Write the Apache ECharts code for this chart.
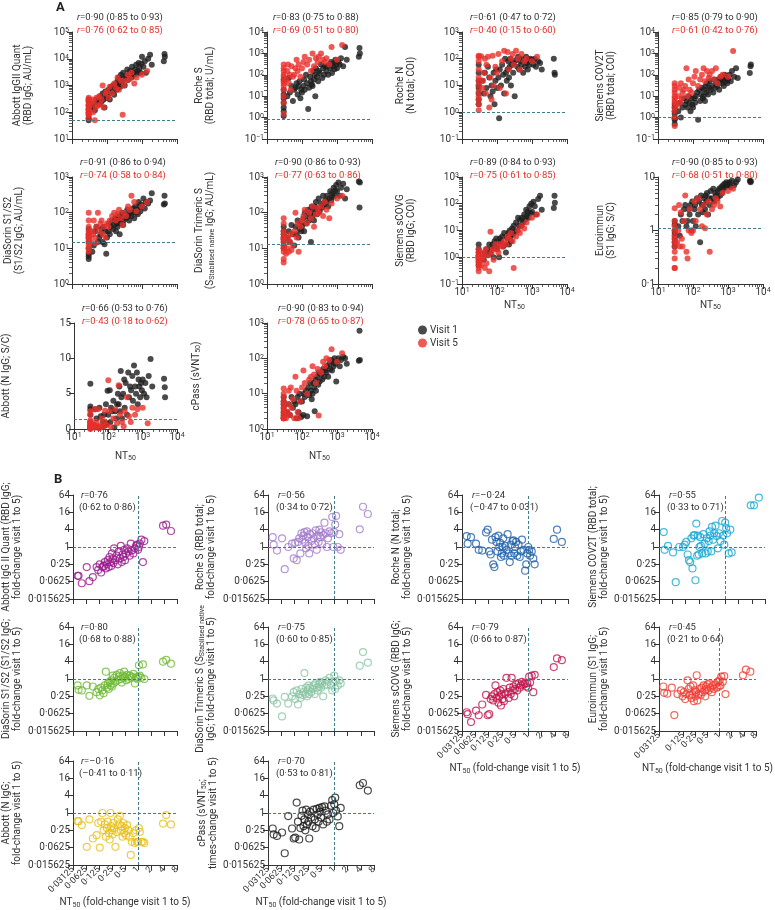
<!DOCTYPE html>
<html><head><meta charset="utf-8">
<script src="https://cdn.jsdelivr.net/npm/echarts@6/dist/echarts.min.js"></script>
<style>html,body{margin:0;padding:0;background:#fff}#c{width:775px;height:910px}</style>
</head><body><div id="c"></div>
<script>
// ---------------- DATA ----------------
// Panel A: NT50 at visit 1 (black) and visit 5 (red), shared by all assays
const nt50Visit1 = [30,30,30,30,30,30,30,30, 38,42,45,50,55,60, 65,70,75,80,85,90,95,
 100,110,115,120,130,140,150,160,170,180,190,
 200,210,220,230,240,250,270,290,300,320,350,380,400,430,460,
 500,520,560,600,640,680,720,760,800,850,900,950,
 1000,1100,1200,1300,1500,1700,1900, 4200,4400,4500];
const nt50Visit5 = [30,30,30,30,30,30,30,30,30,30,30,30, 35,38,40,42,45,48,50,55,
 60,65,70,75,80,90, 100,110,120,140,160,180,200,220,250,280,
 300,350,400,450,500,600,700, 1000,1400];

const abbottIgG_v1 = [50,60,80,100,130,180,250,300, 150,200,120,300,250,200, 400,250,500,300,150,600,350,
 400,700,500,300,900,600,1000,450,800,1200,700,
 1500,800,2000,1100,900,2500,1300,3000,1800,1000,2200,4000,1600,2800,3500,
 2000,5000,3000,2500,4000,6000,2800,3500,7000,4500,3000,6500,
 12000,5000,8000,3000,10000,14000,6000, 8000,15000,12000];
const abbottIgG_v5 = [60,80,100,130,150,180,200,250,300,350,120,90, 200,300,100,250,50,150,350,180,
 400,200,300,1000,150,500, 600,350,900,500,1200,800,2000,700,1500,80,
 1000,1500,2500,1800,3000,1200,2000, 2500,3500];

const rocheS_v1 = [1.2,2,3,5,8,12,20,60, 10,70,15,30,6,20, 25,40,12,30,50,8,20,
 15,30,60,20,100,40,2.5,25,80,50,35,
 30,150,60,100,10,200,80,50,150,120,300,70,200,100,250,
 150,250,100,300,200,400,120,250,350,180,500,300,
 200,400,300,600,250,2000,500, 700,1800,1000];
const rocheS_v5 = [1.5,5,10,20,30,50,80,100,150,200,300,40, 60,150,300,40,100,20,250,80,
 100,200,500,150,300,80, 200,400,700,300,500,150,1000,250,600,400,
 700,1000,500,400,600,300,2000, 500,2500];

const rocheN_v1 = [2,3,5,10,15,30,60,8, 15,5,30,8,50,20, 4,10,6,30,2,15,40,
 8,20,0.6,40,10,60,25,5,100,30,15,
 40,80,20,50,100,10,60,30,70,4,90,50,120,40,80,
 60,100,30,80,50,120,70,40,90,60,100,80,
 90,60,100,50,80,70,40, 100,30,25];
const rocheN_v5 = [1.2,2,4,6,10,15,20,40,80,120,130,3, 125,8,15,30,100,5,60,120,
 1.5,20,3,130,10,50, 30,150,8,80,200,5,180,40,100,150,
 60,200,100,40,150,80,100, 80,120];

const siemensCOV2T_v1 = [0.8,0.9,1,1.5,2,3,4,0.5, 2,5,1,3,8,4, 6,3,10,5,2,8,4,
 3,8,5,10,15,0.8,20,6,12,25,8,
 10,20,6,30,15,40,12,25,50,20,30,15,60,25,40,
 30,60,20,50,80,40,60,30,100,50,70,40,
 60,100,50,150,80,200,70, 120,250,300];
const siemensCOV2T_v5 = [0.4,1,2,3,5,8,10,15,20,30,40,6, 4,10,25,5,40,8,15,20,
 30,200,10,60,20,15, 40,80,150,30,60,100,200,50,150,70,
 100,150,60,200,40,80,100, 80,1300];

const diasorinS1S2_v1 = [5,6,7,10,15,20,25,35, 8,12,30,40,15,20, 25,35,15,40,13,30,7,
 20,30,50,25,40,60,35,45,70,30,50,
 40,60,80,25,50,70,100,45,60,90,70,120,80,60,100,
 80,100,130,70,150,100,120,90,200,150,110,170,
 150,250,130,200,180,220,350, 170,300,180];
const diasorinS1S2_v5 = [8,10,15,18,20,25,30,40,60,100,12,22, 15,30,25,60,20,14,40,100,
 30,50,60,25,40,20, 50,40,60,80,100,60,90,120,70,45,
 100,80,150,120,300,200,110, 150,200];

const diasorinTri_v1 = [12,15,20,25,30,18,10,40, 20,30,15,45,25,12, 40,25,60,20,35,50,30,
 40,70,30,100,50,80,120,60,90,15,150,
 80,120,60,150,100,200,90,130,250,110,180,140,300,160,220,
 200,300,150,250,400,220,350,280,500,300,420,600,
 400,700,300,500,650,250,450, 750,140,700];
const diasorinTri_v5 = [4,5,8,10,12,15,20,25,30,50,70,18, 7,10,20,8,15,25,9,12,
 30,100,20,50,8,40, 60,80,120,50,100,70,150,40,90,130,
 100,150,80,200,120,70,180, 250,300];

const siemensSCOVG_v1 = [0.5,0.7,0.9,1,1.2,1.5,2,3, 1,0.8,1.5,2,1.2,3, 1.5,2,3,1,4,2.5,5,
 2,3,1,5,4,6,2.5,8,3,1.5,6,
 5,8,3,10,6,4,12,7,15,9,20,10,30,15,25,
 15,30,20,40,25,60,35,50,30,80,45,100,
 50,120,80,40,150,200,60, 70,200,110];
const siemensSCOVG_v5 = [0.3,0.5,0.6,0.8,1,1.2,1.5,2,0.4,0.7,0.9,1.1, 0.5,0.8,1,1.5,0.4,2,0.6,1.2,
 0.3,9,1.5,2,0.8,3, 2,1.5,3,2.5,4,3,6,5,8,4,
 0.4,6,10,8,15,12,20, 30,40];

const euroimmun_v1 = [0.5,0.6,0.8,1,1.3,1.5,0.7,0.9, 1.2,0.8,2,1.5,2.5,3, 1.2,1.5,2.5,2,3,1,3.5,
 1.5,2.5,3,1.2,4,2,3.5,0.6,4.5,3,2.2,
 3,4,2.5,4.5,3.5,5,2,4,3,5.5,4,6,3.5,5,4.5,
 4,5.5,6,4.5,6.5,5,7,6,7.5,6.5,8,7,
 7.5,8,6.5,8.5,7,8,9, 8.5,8,8.3];
const euroimmun_v5 = [0.2,0.3,0.5,0.6,0.8,1,1.2,1.5,2.6,0.7,0.2,0.4, 0.6,1,3,0.5,2.2,0.7,0.5,1.5,
 4.5,0.4,0.3,1,2.5,0.9, 1,3.5,1.5,4,2.5,1.2,3,1.1,2,3.5,
 0.4,2.5,3,4,3.5,2.8,5, 5.5,6];

const abbottN_v1 = [0.1,0.3,0.5,1,2,2.8,3.2,6.4, 0.5,2.8,1.5,0.2,3,1.8, 0.3,1,2,0.5,3.5,0.8,5.4,
 2,5.5,1,3,2.5,4,0.2,2.5,1.5,3.5,5,
 3.5,6,2.5,8.2,4.5,1.5,5,7,3,6.5,2,8,4.5,6,5.5,
 7.5,4,9,6,5,8,3.5,7,6,4.5,6.5,5.5,
 7,5,6.5,4.5,7.5,9.9,6, 7.1,5.9,4.5];
const abbottN_v5 = [0,0.2,0.3,0.5,0.7,1,1.2,2.5,0.1,0.4,0.8,2, 0.3,0.6,2.8,0.2,1,0.4,2.8,0.1,
 0.5,1.5,0.3,1,2.6,0.6, 6.9,2.5,0.3,1.5,2.8,0.8,6.2,2,1,0.4,
 2.5,4.5,1.8,1,3,2,2.8, 3.0,0.8];

const cPass_v1 = [2,2.5,3,4,5,8,2.2,6, 3,5,2.5,8,4,6, 5,2,8,3,10,6,2.2,
 6,2.5,10,8,12,2.3,15,9,20,12,7,
 10,20,15,3.2,25,12,30,18,40,22,35,25,50,30,45,
 40,60,30,70,50,90,45,80,60,100,70,22,
 80,100,60,90,110,100,70, 85,600,90];
const cPass_v5 = [2,2,2,2.5,3,4,5,6,8,10,14,3.5, 2,3,5,12,2.5,15,4,7,
 2,30,12,3,2,6, 15,45,20,10,25,30,60,35,20,50,
 2.4,40,80,60,100,90,180, 80,140];

const cutoffs = [50, 0.8, 1, 1, 15, 13, 1, 1.1, 1.4, null];
const corrV1 = ['0·90 (0·85 to 0·93)','0·83 (0·75 to 0·88)','0·61 (0·47 to 0·72)','0·85 (0·79 to 0·90)',
 '0·91 (0·86 to 0·94)','0·90 (0·86 to 0·93)','0·89 (0·84 to 0·93)','0·90 (0·85 to 0·93)',
 '0·66 (0·53 to 0·76)','0·90 (0·83 to 0·94)'];
const corrV5 = ['0·76 (0·62 to 0·85)','0·69 (0·51 to 0·80)','0·40 (0·15 to 0·60)','0·61 (0·42 to 0·76)',
 '0·74 (0·58 to 0·84)','0·77 (0·63 to 0·86)','0·75 (0·61 to 0·85)','0·68 (0·51 to 0·80)',
 '0·43 (0·18 to 0·62)','0·78 (0·65 to 0·87)'];

// Panel B: NT50 fold-change visit 1 to 5 (x), shared; assay fold-changes (y)
const fcNT50 = [0.04,0.042,0.05,0.065,0.075,0.09,
 0.11,0.12,0.13,0.14,0.15,0.16,0.17,0.18,0.19,
 0.2,0.21,0.22,0.23,0.24,0.25,0.26,0.27,0.28,0.3,
 0.32,0.34,0.36,0.38,0.4,0.42,0.44,0.46,0.48,0.5,
 0.53,0.56,0.6,0.64,0.68,0.72,0.78,0.85,0.9,0.95,
 1.0,1.05,1.1,1.2,1.3,1.4, 3.8,4.5,5.8];
const fcAbbottIgG = [0.1,0.1,0.055,0.2,0.065,0.09, 0.2,0.16,0.25,0.13,0.2,0.22,0.3,0.18,0.25,
 0.35,0.2,0.45,0.3,0.22,0.6,0.4,0.28,0.9,0.35, 0.5,0.25,0.7,0.4,1.1,0.3,0.55,0.45,0.8,0.35,
 0.6,0.9,0.7,0.5,1.3,0.75,0.6,0.9,1.1,1.2, 0.8,1.0,1.3,1.8,0.3,1.6, 5.5,6,3.6];
const fcRocheS = [2.2,1.2,0.75,2.0,0.17,1.0, 1.3,0.4,1.4,0.35,1.5,2.0,0.6,3.0,1.8,
 2.5,3.3,1.4,0.9,3.5,2.2,1.1,0.6,2.8,1.6, 3.0,2.0,1.2,3.8,0.8,2.5,1.5,4.0,2.2,3.2,
 1.3,2.6,7.0,3.0,1.0,2.0,3.5,3.0,11,1.0, 3.3,6.0,12,1.0,2.8,0.8, 4.1,25,14];
const fcRocheN = [2.4,1.3,2.2,1.3,0.8,0.75, 3.2,4.0,0.7,0.55,1.8,0.25,0.2,2.2,1.5,
 0.7,2.5,1.0,1.4,0.45,0.6,1.0,2.0,0.5,1.1, 0.8,2.8,0.6,0.3,1.2,0.5,1.6,1.7,0.6,1.0,
 1.5,0.5,1.2,0.45,0.7,1.8,0.8,0.15,0.25,0.6, 1.0,0.8,0.5,0.7,0.4,0.25, 1.9,4.0,1.5];
const fcSiemensCOV2T = [3.3,0.8,1.1,0.65,0.06,1.0, 1.0,1.2,1.5,0.55,0.35,0.3,2.0,0.18,2.5,
 2.6,0.07,6.5,0.5,2.5,0.55,1.0,2.2,1.1,0.6, 2.8,1.3,0.6,2.0,0.7,1.6,3.5,2.5,0.7,5.0,
 1.8,3.0,5.5,2.4,0.9,3.0,1.6,8.0,2.5,1.2, 7.0,4.5,3.0,0.6,4.0,0.65, 28,28,52];
const fcDiasorinS1S2 = [0.6,0.42,0.4,0.6,0.26,0.55, 0.35,0.45,0.27,0.5,0.4,0.32,0.6,1.8,0.5,
 0.7,0.45,0.8,0.6,0.9,0.55,1.3,0.7,1.1,0.8, 1.4,0.9,1.2,1.6,1.0,0.75,1.3,1.1,1.8,1.2,
 0.9,1.4,1.0,1.3,1.1,1.2,1.5,0.7,1.1,1.0, 1.2,3.0,1.3,1.1,3.2,1.0, 4.0,4.6,3.4];
const fcDiasorinTri = [0.21,0.18,0.14,0.05,0.24,0.14, 0.25,0.35,0.2,0.4,0.13,0.3,0.22,0.45,0.28,
 0.35,1.6,0.3,0.5,0.25,0.4,0.6,0.3,0.5,0.35, 0.45,0.6,0.3,0.7,0.5,0.4,0.65,0.55,0.8,0.5,
 0.7,0.25,0.6,0.9,0.65,0.8,1.1,0.6,0.4,0.8, 1.3,0.45,0.85,0.6,0.9,0.7, 2.9,8.6,3.7];
const fcSiemensSCOVG = [0.07,0.06,0.032,0.08,0.055,0.13, 0.28,0.055,0.06,0.2,0.25,0.18,0.3,0.6,0.22,
 0.35,0.15,0.25,0.4,0.12,0.3,0.2,0.45,0.17,0.3, 1.1,0.35,0.22,0.5,0.3,1.1,0.4,0.55,0.25,0.45,
 0.65,0.4,0.7,0.5,0.6,0.8,0.65,0.7,0.55,0.7, 0.5,1.2,0.75,1.3,0.35,1.4, 2.6,5.2,4.5];
const fcEuroimmun = [0.55,0.33,0.31,0.5,0.056,0.3, 0.4,0.25,0.35,0.2,0.3,0.9,0.45,0.28,0.55,
 0.22,0.3,0.6,0.17,0.4,0.25,0.35,1.35,0.18,0.3, 0.45,0.28,0.5,0.35,0.6,0.4,0.25,0.55,0.45,0.65,
 0.4,0.7,0.5,0.35,0.6,0.45,0.65,0.5,0.8,0.55, 0.9,0.6,1.2,0.8,1.25,0.3, 1.35,2.1,1.8];
const fcAbbottN = [0.52,0.52,0.38,0.067,0.6,0.13, 0.17,0.45,0.063,0.5,1.0,0.25,0.4,0.15,0.3,
 0.5,0.2,0.12,1.0,0.35,0.25,0.18,0.45,0.3,0.067, 0.22,0.6,0.4,0.8,0.25,0.35,0.15,0.45,0.2,0.3,
 0.17,0.38,0.25,0.15,0.035,0.1,0.2,0.09,0.25,0.1, 0.1,0.3,0.22,0.1,0.1,0.09, 0.43,0.85,0.4];
const fcCPass = [0.29,0.18,0.16,0.21,0.04,0.78, 0.29,0.13,0.14,2.3,0.5,0.12,0.3,0.8,1.2,
 0.35,0.6,0.25,1.3,0.4,0.9,0.5,0.13,1.1,0.7, 0.35,1.3,0.6,0.3,1.4,0.9,0.5,1.5,1.1,0.7,
 1.6,0.4,1.7,1.2,0.5,0.9,0.6,1.8,2.8,1.0, 2.0,3.4,1.2,0.76,0.35,1.5, 9.2,11,6];
const corrB = [['0·76','(0·62 to 0·86)'],['0·56','(0·34 to 0·72)'],['–0·24','(–0·47 to 0·031)'],['0·55','(0·33 to 0·71)'],
 ['0·80','(0·68 to 0·88)'],['0·75','(0·60 to 0·85)'],['0·79','(0·66 to 0·87)'],['0·45','(0·21 to 0·64)'],
 ['–0·16','(–0·41 to 0·11)'],['0·70','(0·53 to 0·81)']];

// Tick values
const xTicksA = [10,100,1000,10000];
const yTicksB = [0.015625,0.0625,0.25,1,4,16,64];
const xTicksB = [0.03125,0.0625,0.125,0.25,0.5,1,2,4,8];

// ---------------- LAYOUT / STYLE ----------------
const F = "Roboto, sans-serif";
const T = '#333';
const RED = '#e8302a';
const DASH = '#3f7d8a';
const RICH = {
  sup:{fontSize:7,lineHeight:5,verticalAlign:'top',color:T,fontFamily:F},
  sub:{fontSize:7,lineHeight:5,verticalAlign:'bottom',color:T,fontFamily:F}
};
const aLeft=[72,267,462,658], aTop=[32,177,323], aH=[107,107,106], aW=105;
const bLeft=[71,268,462,659], bTop=[495,627,761], bH=104, bW=106;

const aCfg = [
 {name:'Abbott IgGII Quant\n(RBD IgG; AU/mL)', y:[1e1,1e5], gap:38, tx:77},
 {name:'Roche S\n(RBD total; U/mL)', y:[0.1,1e4], gap:51, tx:273},
 {name:'Roche N\n(N total; COI)', y:[0.1,1e3], gap:45, tx:470},
 {name:'Siemens COV2T\n(RBD total; COI)', y:[0.1,1e4], gap:41, tx:672},
 {name:'DiaSorin S1/S2\n(S1/S2 IgG; AU/mL)', y:[1,1e3], gap:47, tx:80},
 {name:'DiaSorin Trimeric S\n(S{sub|Stabilised native} IgG; AU/mL)', y:[1,1e3], gap:51, tx:275},
 {name:'Siemens sCOVG\n(RBD IgG; COI)', y:[0.1,1e3], gap:45, tx:470, xl:true, ng:16},
 {name:'Euroimmun\n(S1 IgG; S/C)', y:[0.1,10], gap:41, tx:672, xl:true, ng:16, plain:true},
 {name:'Abbott (N IgG; S/C)', y:[0,15], lin:true, gap:62, tx:82, xl:true, ng:22},
 {name:'cPass (sVNT{sub|50})', y:[1,1e3], gap:65, tx:278, xl:true, ng:22}
];
const aData = [[abbottIgG_v1,abbottIgG_v5],[rocheS_v1,rocheS_v5],[rocheN_v1,rocheN_v5],[siemensCOV2T_v1,siemensCOV2T_v5],
 [diasorinS1S2_v1,diasorinS1S2_v5],[diasorinTri_v1,diasorinTri_v5],[siemensSCOVG_v1,siemensSCOVG_v5],[euroimmun_v1,euroimmun_v5],
 [abbottN_v1,abbottN_v5],[cPass_v1,cPass_v5]];

const bCfg = [
 {name:'Abbott IgG II Quant (RBD IgG;\nfold-change visit 1 to 5)', gap:50, color:'#9a1b8d'},
 {name:'Roche S (RBD total;\nfold-change visit 1 to 5)', gap:51, color:'#a47dcc'},
 {name:'Roche N (N total;\nfold-change visit 1 to 5)', gap:48, color:'#2061aa'},
 {name:'Siemens COV2T (RBD total;\nfold-change visit 1 to 5)', gap:42, color:'#19a8d3'},
 {name:'DiaSorin S1/S2 (S1/S2 IgG;\nfold-change visit 1 to 5)', gap:50, color:'#6fba38'},
 {name:'DiaSorin Trimeric S (S{sub|Stabilised native}\nIgG; fold-change visit 1 to 5)', gap:51, color:'#8cc6a6'},
 {name:'Siemens sCOVG (RBD IgG;\nfold-change visit 1 to 5)', gap:48, color:'#c2184d', xl:true},
 {name:'Euroimmun (S1 IgG;\nfold-change visit 1 to 5)', gap:42, color:'#ed4036', xl:true},
 {name:'Abbott (N IgG;\nfold-change visit 1 to 5)', gap:50, color:'#e7c11c', xl:true},
 {name:'cPass (sVNT{sub|50};\ntimes-change visit 1 to 5)', gap:47, color:'#1e1e1e', xl:true}
];
const bData = [fcAbbottIgG,fcRocheS,fcRocheN,fcSiemensCOV2T,fcDiasorinS1S2,fcDiasorinTri,fcSiemensSCOVG,fcEuroimmun,fcAbbottN,fcCPass];

// ---------------- HELPERS ----------------
function logMajor(min,max){const a=[];for(let e=Math.round(Math.log10(min));e<=Math.round(Math.log10(max));e++)a.push(+Math.pow(10,e).toPrecision(1));return a;}
function logMinor(min,max){const a=[];for(let e=Math.round(Math.log10(min));e<Math.round(Math.log10(max));e++)for(let k=2;k<=9;k++)a.push(+(k*Math.pow(10,e)).toPrecision(2));return a;}
function pow10Fmt(v){const e=Math.round(Math.log10(v));return '10{sup|'+(e<0?'−'+(-e):e)+'}';}
function dotFmt(v){return String(v).replace('.','·');}
const nameStyle = {fontSize:10,color:T,fontFamily:F,lineHeight:11,rich:RICH};

const grids=[], xAxes=[], yAxes=[], series=[], graphics=[];

function majorAxis(o){
  return {type:o.type||'log', gridIndex:o.g, min:o.min, max:o.max, position:o.pos,
    name:o.name||'', nameLocation:'middle', nameGap:o.gap||0, nameRotate:o.rot, nameTextStyle:nameStyle,
    axisLine:{show:true,onZero:false,lineStyle:{color:T,width:1}},
    axisTick:{show:true,length:5,customValues:o.ticks,lineStyle:{color:T,width:1}},
    axisLabel:{show:!!o.labels,customValues:o.ticks,formatter:o.fmt,fontSize:o.fs||10,color:T,fontFamily:F,margin:o.margin||3,
      rotate:o.rotate||0,rich:RICH,showMinLabel:true,showMaxLabel:true,hideOverlap:false,overflow:'none'},
    splitLine:{show:false}, minorTick:{show:false}};
}
function minorAxis(o){
  return {type:'log', gridIndex:o.g, min:o.min, max:o.max, position:o.pos,
    axisLine:{show:false,onZero:false},
    axisTick:{show:true,length:3,customValues:o.ticks,lineStyle:{color:T,width:0.8}},
    axisLabel:{show:false}, splitLine:{show:false}};
}

// ---------------- PANEL A ----------------
aCfg.forEach((c,i)=>{
  const row=Math.floor(i/4), col=i%4;
  const g=grids.length;
  grids.push({left:aLeft[col],top:aTop[row],width:aW,height:aH[row]});
  const xi=xAxes.length;
  xAxes.push(majorAxis({g,min:10,max:1e4,pos:'bottom',ticks:xTicksA,labels:c.xl,fmt:pow10Fmt,
    name:c.xl?'NT{sub|50}':'',gap:c.ng}));
  xAxes.push(minorAxis({g,min:10,max:1e4,pos:'bottom',ticks:logMinor(10,1e4)}));
  const yi=yAxes.length;
  if(c.lin){
    yAxes.push(majorAxis({type:'value',g,min:0,max:15,pos:'left',ticks:[0,5,10,15],labels:true,fmt:v=>String(v),name:c.name,gap:c.gap,rot:90}));
  } else {
    yAxes.push(majorAxis({g,min:c.y[0],max:c.y[1],pos:'left',ticks:logMajor(c.y[0],c.y[1]),labels:true,
      fmt:c.plain?dotFmt:pow10Fmt,name:c.name,gap:c.gap,rot:90}));
    yAxes.push(minorAxis({g,min:c.y[0],max:c.y[1],pos:'left',ticks:logMinor(c.y[0],c.y[1])}));
  }
  const [v1,v5]=aData[i];
  const s1={type:'scatter',name:'Visit 1',xAxisIndex:xi,yAxisIndex:yi,symbolSize:6,
    itemStyle:{color:'#1d1d1d'},data:nt50Visit1.map((x,k)=>[x,v1[k]]),z:3};
  if(cutoffs[i]!=null){
    s1.markLine={silent:true,symbol:'none',label:{show:false},animation:false,
      lineStyle:{type:[3,2],color:DASH,width:1},data:[{yAxis:cutoffs[i]}]};
  }
  series.push(s1);
  series.push({type:'scatter',name:'Visit 5',xAxisIndex:xi,yAxisIndex:yi,symbolSize:6,
    itemStyle:{color:RED},data:nt50Visit5.map((x,k)=>[x,v5[k]]),z:4});
  const top=aTop[row];
  graphics.push({type:'text',x:c.tx,y:top-14,style:{text:'{i|r}='+corrV1[i],fontSize:9.5,fontFamily:F,fill:T,verticalAlign:'middle',
    rich:{i:{fontStyle:'italic',fontSize:9.5,fontFamily:F,fill:T}}}});
  graphics.push({type:'text',x:c.tx,y:top-1,style:{text:'{i|r}='+corrV5[i],fontSize:9.5,fontFamily:F,fill:RED,verticalAlign:'middle',
    rich:{i:{fontStyle:'italic',fontSize:9.5,fontFamily:F,fill:RED}}}});
});

// ---------------- PANEL B ----------------
bCfg.forEach((c,i)=>{
  const row=Math.floor(i/4), col=i%4;
  const g=grids.length;
  grids.push({left:bLeft[col],top:bTop[row],width:bW,height:bH});
  const xi=xAxes.length;
  xAxes.push(majorAxis({g,min:xTicksB[0],max:xTicksB[xTicksB.length-1],pos:'bottom',ticks:xTicksB,labels:c.xl,fmt:dotFmt,
    rotate:45,margin:3,fs:9,name:c.xl?'NT{sub|50} (fold-change visit 1 to 5)':'',gap:32}));
  const yi=yAxes.length;
  yAxes.push(majorAxis({g,min:yTicksB[0],max:yTicksB[yTicksB.length-1],pos:'left',ticks:yTicksB,labels:true,fmt:dotFmt,
    name:c.name,gap:c.gap,rot:90}));
  series.push({type:'scatter',name:'fc'+i,xAxisIndex:xi,yAxisIndex:yi,symbol:'circle',symbolSize:7,
    itemStyle:{color:'rgba(255,255,255,0)',borderColor:c.color,borderWidth:1.2},
    data:fcNT50.map((x,k)=>[x,bData[i][k]]),z:3,
    markLine:{silent:true,symbol:'none',label:{show:false},animation:false,
      lineStyle:{type:[3,2],color:DASH,width:1},data:[{yAxis:1},{xAxis:1}]}});
  const top=bTop[row], left=bLeft[col];
  graphics.push({type:'text',x:left+10,y:top+1,style:{text:'{i|r}='+corrB[i][0],fontSize:9.5,fontFamily:F,fill:T,verticalAlign:'middle',
    rich:{i:{fontStyle:'italic',fontSize:9.5,fontFamily:F,fill:T}}}});
  graphics.push({type:'text',x:left+8,y:top+13,style:{text:corrB[i][1],fontSize:9.5,fontFamily:F,fill:T,verticalAlign:'middle'}});
});

graphics.push({type:'text',x:56,y:8,style:{text:'A',fontSize:13,fontWeight:'bold',fontFamily:F,fill:'#222',verticalAlign:'middle'}});
graphics.push({type:'text',x:54,y:480,style:{text:'B',fontSize:13,fontWeight:'bold',fontFamily:F,fill:'#222',verticalAlign:'middle'}});

const chart = echarts.init(document.getElementById('c'),null,{renderer:'canvas'});
chart.setOption({
  animation:false,
  backgroundColor:'#fff',
  textStyle:{fontFamily:F},
  grid:grids, xAxis:xAxes, yAxis:yAxes, series:series, graphic:graphics,
  legend:{data:['Visit 1','Visit 5'],orient:'vertical',left:413,top:320,icon:'circle',itemWidth:9,itemHeight:9,itemGap:3,
    selectedMode:false,textStyle:{fontSize:10,color:T,fontFamily:F,padding:[0,0,0,-2]}}
});
</script></body></html>
